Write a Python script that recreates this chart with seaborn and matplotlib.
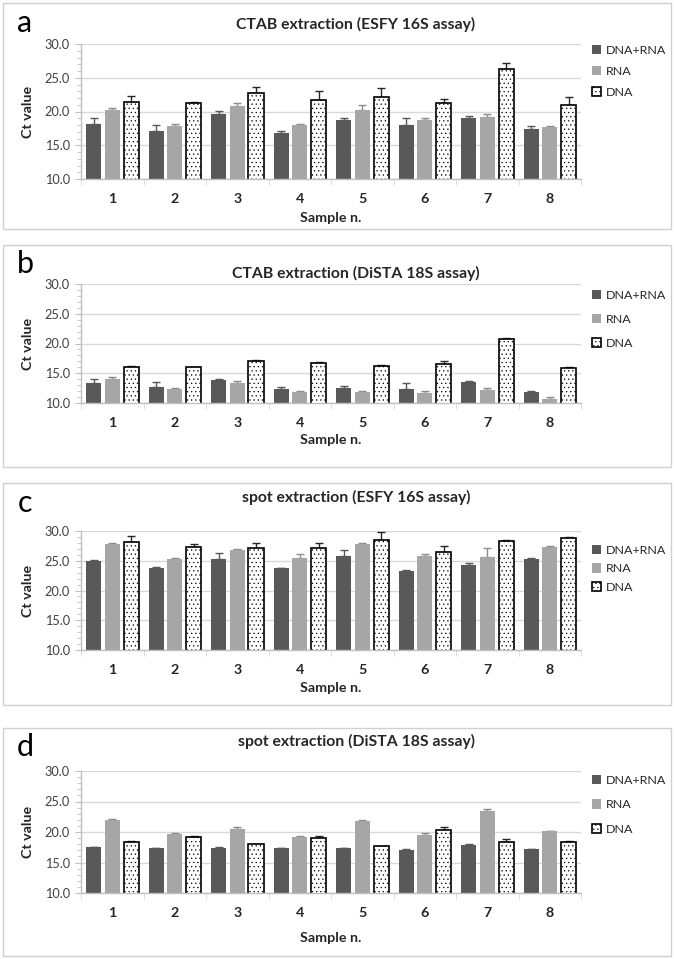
import matplotlib
matplotlib.use("Agg")
import matplotlib.pyplot as plt
import pandas as pd
import seaborn as sns
from matplotlib.patches import Rectangle
from matplotlib.ticker import MultipleLocator, FixedLocator

# Data (Ct values, upper error bar = sd)
samples = ["1", "2", "3", "4", "5", "6", "7", "8"]
series = ["DNA+RNA", "RNA", "DNA"]

a_dr = [18.1, 17.1, 19.7, 16.8, 18.7, 18.0, 19.0, 17.4]
a_dr_err = [0.9, 0.9, 0.4, 0.3, 0.4, 1.0, 0.4, 0.5]
a_rna = [20.2, 17.9, 20.8, 18.0, 20.2, 18.7, 19.2, 17.7]
a_rna_err = [0.3, 0.2, 0.4, 0.2, 0.7, 0.4, 0.4, 0.2]
a_dna = [21.4, 21.2, 22.7, 21.7, 22.1, 21.3, 26.3, 20.9]
a_dna_err = [0.9, 0.2, 0.9, 1.4, 1.4, 0.5, 0.9, 1.2]

b_dr = [13.3, 12.7, 13.9, 12.4, 12.6, 12.4, 13.6, 11.9]
b_dr_err = [0.7, 0.8, 0.1, 0.3, 0.3, 0.9, 0.1, 0.1]
b_rna = [14.1, 12.4, 13.3, 11.9, 11.8, 11.6, 12.2, 10.6]
b_rna_err = [0.2, 0.1, 0.4, 0.1, 0.2, 0.4, 0.3, 0.4]
b_dna = [16.0, 16.0, 17.0, 16.8, 16.3, 16.6, 20.8, 15.8]
b_dna_err = [0.2, 0.1, 0.3, 0.1, 0.1, 0.4, 0.2, 0.3]

c_dr = [24.9, 23.7, 25.3, 23.7, 25.8, 23.2, 24.3, 25.3]
c_dr_err = [0.2, 0.3, 1.0, 0.1, 1.0, 0.2, 0.3, 0.2]
c_rna = [27.8, 25.3, 26.8, 25.5, 27.8, 25.8, 25.7, 27.3]
c_rna_err = [0.1, 0.1, 0.2, 0.6, 0.2, 0.3, 1.4, 0.2]
c_dna = [28.1, 27.3, 27.1, 27.1, 28.5, 26.5, 28.4, 28.9]
c_dna_err = [1.1, 0.5, 0.9, 0.8, 1.4, 0.9, 0.1, 0.1]

d_dr = [17.5, 17.3, 17.3, 17.3, 17.3, 17.1, 17.8, 17.2]
d_dr_err = [0.1, 0.1, 0.2, 0.05, 0.1, 0.1, 0.2, 0.05]
d_rna = [22.0, 19.7, 20.5, 19.2, 21.8, 19.5, 23.4, 20.1]
d_rna_err = [0.1, 0.1, 0.3, 0.1, 0.2, 0.4, 0.3, 0.1]
d_dna = [18.3, 19.1, 18.0, 19.0, 17.7, 20.3, 18.3, 18.3]
d_dna_err = [0.2, 0.3, 0.05, 0.4, 0.05, 0.5, 0.5, 0.2]

titles = ["CTAB extraction (ESFY 16S assay)", "CTAB extraction (DiSTA 18S assay)",
          "spot extraction (ESFY 16S assay)", "spot extraction (DiSTA 18S assay)"]
letters = ["a", "b", "c", "d"]
y_ticks = [10, 15, 20, 25, 30]

panel_data = [
    (a_dr, a_rna, a_dna, a_dr_err, a_rna_err, a_dna_err),
    (b_dr, b_rna, b_dna, b_dr_err, b_rna_err, b_dna_err),
    (c_dr, c_rna, c_dna, c_dr_err, c_rna_err, c_dna_err),
    (d_dr, d_rna, d_dna, d_dr_err, d_rna_err, d_dna_err),
]

# Layout in pixels (left, top, right, bottom)
W, H = 674, 959
boxes = [(3, 3, 671, 229), (3, 245, 671, 467), (3, 483, 671, 705), (3, 728, 671, 956)]
axes_px = [(81, 44, 581, 179), (81, 284, 581, 403), (81, 531, 581, 650), (81, 771, 581, 893)]
title_y = [24, 273, 497, 741]
letter_base = [32, 273, 512, 756]
xlabel_y = [218, 440, 688, 938]
leg_first = [52, 297, 552, 782]
leg_step = [22.5, 25.5, 20, 26]

colors = ["#595959", "#a6a6a6", "white"]
err_colors = ["#595959", "#8c8c8c", "#262626"]

sns.set_style("white")
plt.rcParams["font.family"] = ["Lato", "DejaVu Sans"]
plt.rcParams["hatch.linewidth"] = 0.4
plt.rcParams["hatch.color"] = "black"

fig = plt.figure(figsize=(W / 100, H / 100), dpi=100)
renderer = fig.canvas.get_renderer()


def fit_size(s, target_px, weight="normal"):
    # font size that makes text s about target_px wide
    t = fig.text(0, 0, s, fontsize=10, fontweight=weight)
    w = t.get_window_extent(renderer).width
    t.remove()
    return 10 * target_px / w


title_fs = fit_size(titles[0], 240, "bold")
leg_fs = fit_size("DNA+RNA", 60)
ytick_fs = fit_size("30.0", 25)
label_fs = fit_size("Sample n.", 61, "bold")


def fig_rect(l, t, r, b):
    return [l / W, 1 - b / H, (r - l) / W, (b - t) / H]


for i in range(4):
    l, t, r, b = boxes[i]
    fig.patches.append(Rectangle((l / W, 1 - b / H), (r - l) / W, (b - t) / H,
                                 transform=fig.transFigure, fill=False,
                                 edgecolor="#d0d0d0", linewidth=1))

    dr, rna, dna, dr_e, rna_e, dna_e = panel_data[i]
    df = pd.DataFrame({
        "Sample": samples * 3,
        "Ct": dr + rna + dna,
        "Type": [series[0]] * 8 + [series[1]] * 8 + [series[2]] * 8,
    })
    errs = [dr_e, rna_e, dna_e]

    ax = fig.add_axes(fig_rect(*axes_px[i]))
    sns.barplot(data=df, x="Sample", y="Ct", hue="Type", hue_order=series,
                palette=colors, width=0.9, gap=0.2, errorbar=None,
                legend=False, ax=ax, zorder=2)

    bars = list(ax.containers)
    for k, cont in enumerate(bars):
        xs, hs = [], []
        for p in cont.patches:
            xs.append(p.get_x() + p.get_width() / 2)
            hs.append(p.get_height())
            if k == 2:
                p.set_hatch("....")
                p.set_edgecolor("black")
                p.set_linewidth(1.2)
            else:
                p.set_edgecolor("none")
        ax.errorbar(xs, hs, yerr=[[0] * 8, errs[k]], fmt="none",
                    ecolor=err_colors[k], elinewidth=1, capsize=3,
                    capthick=1, zorder=1)

    ax.set_ylim(10, 30)
    ax.set_xlim(-0.5, 7.5)
    ax.set_yticks(y_ticks)
    ax.set_yticklabels([f"{v:.1f}" for v in y_ticks], fontsize=ytick_fs, color="#404040")
    ax.yaxis.set_minor_locator(MultipleLocator(1))
    ax.xaxis.set_minor_locator(FixedLocator([j + 0.5 for j in range(-1, 8)]))
    ax.tick_params(axis="y", which="major", length=4, color="#bfbfbf", pad=4, left=True)
    ax.tick_params(axis="y", which="minor", length=3, color="#bfbfbf", left=True)
    ax.tick_params(axis="x", which="major", length=0, pad=10)
    ax.tick_params(axis="x", which="minor", length=4, color="#d9d9d9", bottom=True)
    for lab in ax.get_xticklabels():
        lab.set_fontweight("bold")
        lab.set_fontsize(label_fs)
        lab.set_color("#262626")
    ax.grid(axis="y", color="#d9d9d9", linewidth=1, zorder=0)
    ax.set_axisbelow(True)
    for s in ["top", "right"]:
        ax.spines[s].set_visible(False)
    for s in ["left", "bottom"]:
        ax.spines[s].set_color("#bfbfbf")
        ax.spines[s].set_linewidth(1)

    axh = axes_px[i][3] - axes_px[i][1]
    ax.set_ylabel("Ct value", fontsize=label_fs, fontweight="bold", color="#262626")
    ax.yaxis.set_label_coords(-53 / 500, 0.5)
    ax.yaxis.label.set_va("center")
    ax.set_xlabel("Sample n.", fontsize=label_fs, fontweight="bold", color="#262626")
    ax.xaxis.set_label_coords(0.5, -(xlabel_y[i] - axes_px[i][3]) / axh)
    ax.xaxis.label.set_va("center")

    fig.text(356 / W, 1 - title_y[i] / H, titles[i], ha="center", va="center",
             fontsize=title_fs, fontweight="bold", color="#262626")
    fig.text(25 / W, 1 - letter_base[i] / H, letters[i], ha="center", va="baseline",
             fontsize=22, color="black")

    fpx = leg_fs * 100 / 72
    leg = ax.legend(bars, series, loc="upper left", frameon=False,
                    bbox_to_anchor=(592 / W, 1 - (leg_first[i] - fpx / 2 - 1) / H),
                    bbox_transform=fig.transFigure, fontsize=leg_fs, borderpad=0,
                    borderaxespad=0, handlelength=0.75, handleheight=0.75,
                    handletextpad=0.35, labelspacing=(leg_step[i] - fpx) / fpx)
    for txt in leg.get_texts():
        txt.set_color("#262626")

fig.savefig("out.png", dpi=100)
